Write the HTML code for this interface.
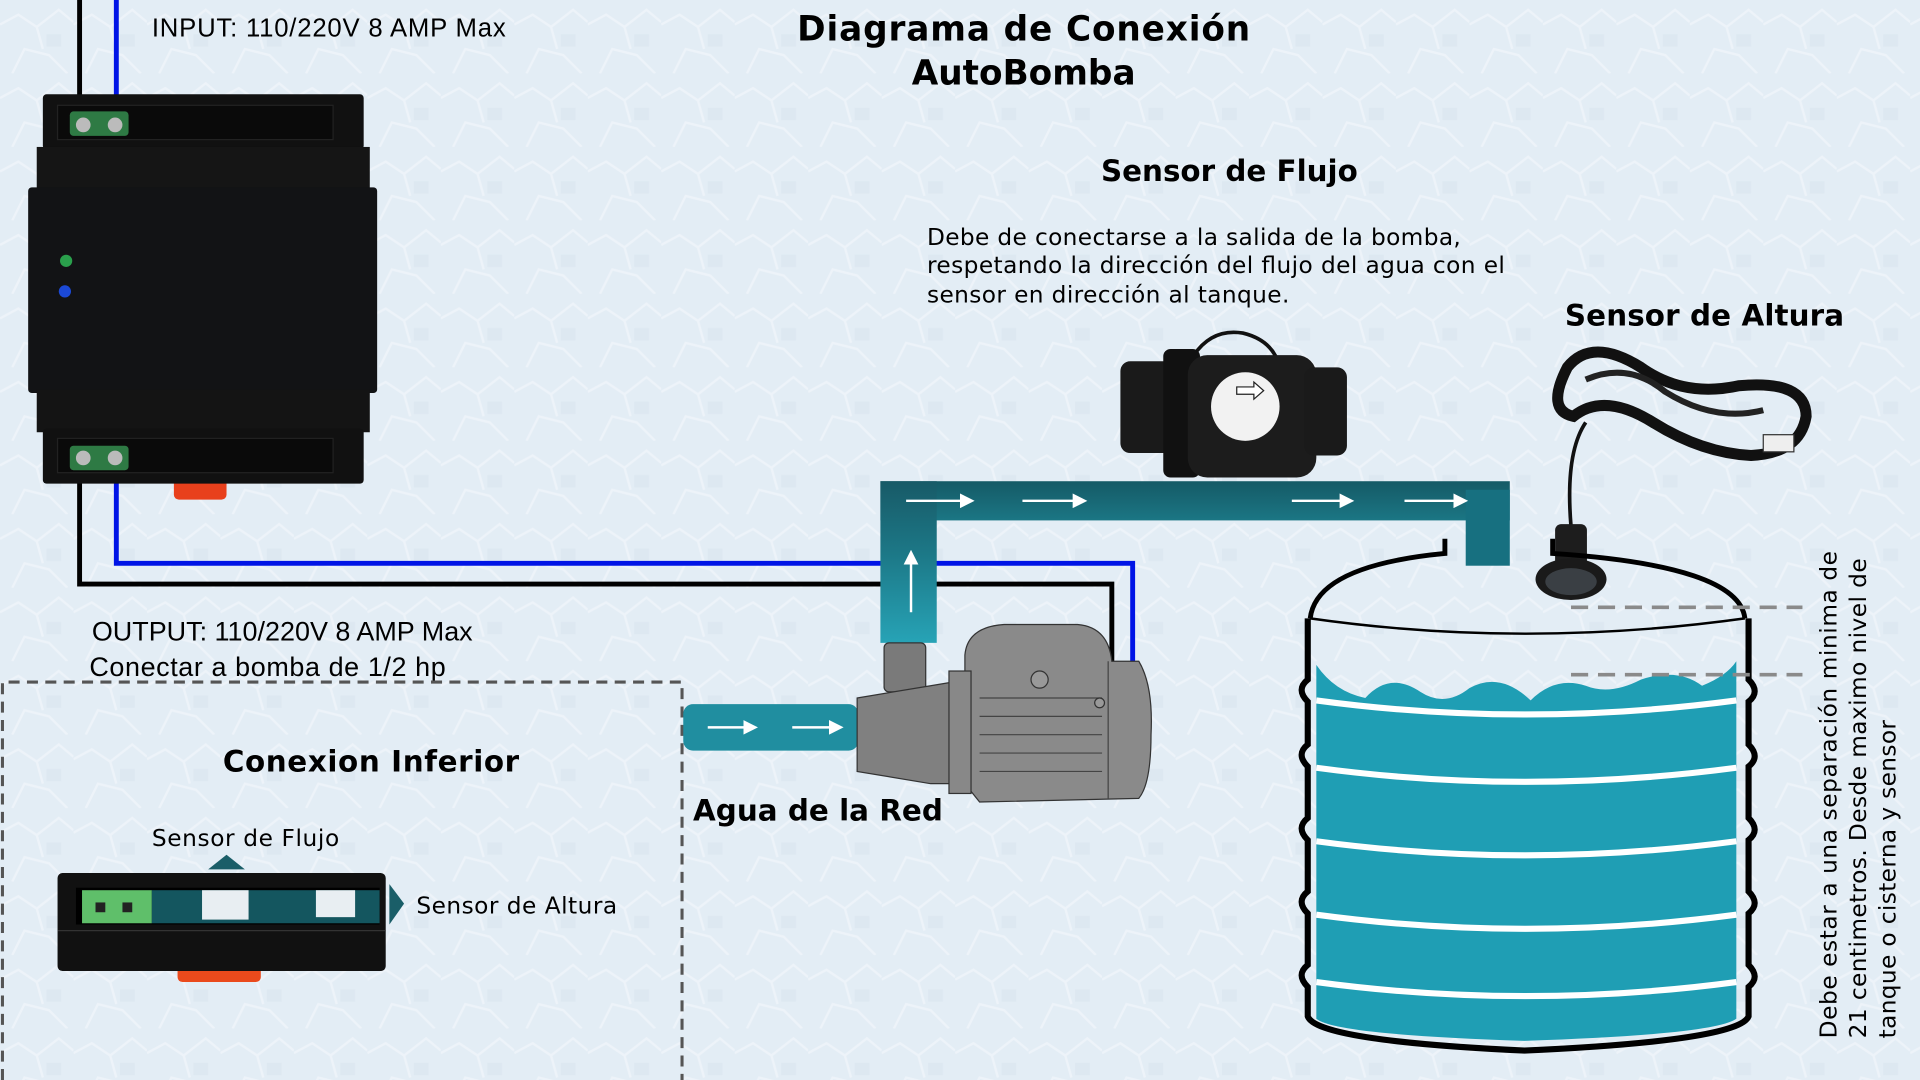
<!DOCTYPE html>
<html><head><meta charset="utf-8"><style>
html,body{margin:0;padding:0;width:1920px;height:1080px;overflow:hidden;background:#e5eef6}
svg{display:block}
text{font-family:"DejaVu Sans","Liberation Sans",sans-serif;fill:#000}
.n{font-family:"Liberation Sans",sans-serif}
</style></head><body>
<svg width="1920" height="1080" viewBox="0 0 1568 882" xmlns="http://www.w3.org/2000/svg">
<defs>
<pattern id="tex" width="60" height="60" patternUnits="userSpaceOnUse">
<rect width="60" height="60" fill="#e3edf5"/>
<path d="M0 20 L15 12 L30 22 L48 8 L60 18 M10 60 L20 40 L40 45 L55 60 M30 22 L35 40" stroke="#edf3f9" stroke-width="2" fill="none"/>
<rect x="38" y="28" width="12" height="10" fill="#dde8f1"/>
</pattern>
<linearGradient id="vp" x1="0" y1="0" x2="0" y2="1"><stop offset="0" stop-color="#185a67"/><stop offset="0.45" stop-color="#1c7887"/><stop offset="1" stop-color="#27a3b6"/></linearGradient>
<linearGradient id="dp" x1="0" y1="0" x2="0" y2="1"><stop offset="0" stop-color="#155a66"/><stop offset="1" stop-color="#1b7684"/></linearGradient>
<marker id="ah" markerWidth="6" markerHeight="6" refX="3" refY="3" orient="auto"><path d="M0 0 L6 3 L0 6 Z" fill="#fff"/></marker>
</defs>
<rect width="1568" height="882" fill="url(#tex)"/>

<!-- wires -->
<path d="M65 0 V80 M65 390 V477 H908 V540" stroke="#000" stroke-width="4" fill="none"/>
<path d="M95 0 V80 M95 390 V460 H925 V540" stroke="#0014e6" stroke-width="4" fill="none"/>

<!-- controller -->
<rect x="142" y="390" width="43" height="18" rx="4" fill="#e8401c"/>
<rect x="35" y="77" width="262" height="45" rx="3" fill="#111"/>
<rect x="47" y="86" width="225" height="28" fill="#0a0a0a" stroke="#222"/>
<rect x="30" y="120" width="272" height="35" fill="#151515"/>
<rect x="23" y="153" width="285" height="168" rx="3" fill="#121315"/>
<rect x="30" y="318" width="272" height="35" fill="#141414"/>
<rect x="35" y="350" width="262" height="45" rx="3" fill="#111"/>
<rect x="47" y="358" width="225" height="28" fill="#0a0a0a" stroke="#222"/>
<rect x="57" y="91" width="48" height="20" rx="3" fill="#2e7a44"/>
<circle cx="68" cy="102" r="6" fill="#bbb"/><circle cx="94" cy="102" r="6" fill="#bbb"/>
<rect x="57" y="364" width="48" height="20" rx="3" fill="#2e7a44"/>
<circle cx="68" cy="374" r="6" fill="#bbb"/><circle cx="94" cy="374" r="6" fill="#bbb"/>
<circle cx="54" cy="213" r="5" fill="#2aa04c"/>
<circle cx="53" cy="238" r="5" fill="#1b49d6"/>

<!-- texts -->
<text class="n" x="124" y="30" font-size="21" textLength="289">INPUT: 110/220V 8 AMP Max</text>
<text x="836" y="33" font-size="28" font-weight="bold" text-anchor="middle" textLength="370">Diagrama de Conexión</text>
<text x="836" y="69" font-size="28" font-weight="bold" text-anchor="middle">AutoBomba</text>
<text x="1004" y="148" font-size="24" font-weight="bold" text-anchor="middle">Sensor de Flujo</text>
<text x="757" y="200" font-size="19" textLength="436">Debe de conectarse a la salida de la bomba,</text>
<text x="757" y="223" font-size="19" textLength="472">respetando la dirección del flujo del agua con el</text>
<text x="757" y="247" font-size="19" textLength="296">sensor en dirección al tanque.</text>
<text x="1392" y="266" font-size="24" font-weight="bold" text-anchor="middle" textLength="228">Sensor de Altura</text>
<text class="n" x="75" y="523" font-size="22" textLength="311">OUTPUT: 110/220V 8 AMP Max</text>
<text class="n" x="73" y="552" font-size="22" textLength="291">Conectar a bomba de 1/2 hp</text>
<text x="303" y="630" font-size="24" font-weight="bold" text-anchor="middle" textLength="242">Conexion Inferior</text>
<text x="124" y="691" font-size="19" textLength="153">Sensor de Flujo</text>
<text x="340" y="746" font-size="19" textLength="164">Sensor de Altura</text>
<text x="566" y="670" font-size="24" font-weight="bold" textLength="204">Agua de la Red</text>

<!-- dashed box -->
<path d="M2 882 V557 H557 V882" stroke="#555" stroke-width="2.5" stroke-dasharray="9 6" fill="none"/>

<!-- bottom connector -->
<path d="M170 710 L185 698 L200 710 Z" fill="#1a5e68"/>
<path d="M318 722 L330 738 L318 755 Z" fill="#1a5e68"/>
<rect x="145" y="780" width="68" height="22" rx="4" fill="#ea4a1c"/>
<rect x="47" y="713" width="268" height="80" rx="4" fill="#111"/>
<rect x="62" y="725" width="248" height="30" fill="#000"/>
<rect x="67" y="727" width="57" height="27" fill="#5fbf6a"/>
<rect x="78" y="737" width="8" height="8" fill="#222"/><rect x="100" y="737" width="8" height="8" fill="#222"/>
<rect x="124" y="727" width="186" height="27" fill="#14565f"/>
<rect x="165" y="727" width="38" height="24" fill="#e8eef2"/>
<rect x="258" y="727" width="32" height="22" fill="#e8eef2"/>
<line x1="47" y1="760" x2="315" y2="760" stroke="#333"/>

<!-- pipes -->
<rect x="719" y="393" width="514" height="32" fill="url(#dp)"/>
<rect x="719" y="393" width="46" height="132" fill="url(#vp)"/>
<rect x="1197" y="400" width="36" height="62" fill="#177080"/>
<g stroke="#fff" stroke-width="2" marker-end="url(#ah)">
<line x1="740" y1="409" x2="790" y2="409"/>
<line x1="835" y1="409" x2="882" y2="409"/>
<line x1="1055" y1="409" x2="1100" y2="409"/>
<line x1="1147" y1="409" x2="1193" y2="409"/>
<line x1="744" y1="500" x2="744" y2="455"/>
</g>
<rect x="558" y="575" width="143" height="38" rx="8" fill="#208ea0"/>
<g stroke="#fff" stroke-width="2" marker-end="url(#ah)">
<line x1="578" y1="594" x2="613" y2="594"/>
<line x1="647" y1="594" x2="683" y2="594"/>
</g>

<!-- pump -->
<g stroke="#333" stroke-width="1">
<rect x="722" y="525" width="34" height="40" rx="4" fill="#7a7a7a"/>
<path d="M700 570 L760 560 L790 555 L790 640 L760 640 L700 630 Z" fill="#808080"/>
<path d="M788 535 Q790 512 820 510 L880 510 Q905 512 908 540 L930 540 Q942 560 940 600 Q940 640 930 652 L800 655 L788 640 Z" fill="#8a8a8a"/>
<rect x="775" y="548" width="18" height="100" fill="#888"/>
<path d="M800 570 H900 M800 585 H900 M800 600 H900 M800 615 H900 M800 630 H900 M905 540 V652" fill="none" stroke="#444"/>
<circle cx="849" cy="555" r="7" fill="#999"/>
<circle cx="898" cy="574" r="4" fill="#999"/>
</g>

<!-- flow sensor -->
<path d="M975 290 Q990 268 1015 272 Q1040 278 1045 300" stroke="#111" stroke-width="3" fill="none"/>
<rect x="915" y="295" width="45" height="75" rx="8" fill="#1a1a1a"/>
<rect x="950" y="285" width="30" height="105" rx="6" fill="#111"/>
<rect x="970" y="290" width="105" height="100" rx="16" fill="#1c1c1c"/>
<rect x="1065" y="300" width="35" height="72" rx="8" fill="#1a1a1a"/>
<circle cx="1017" cy="332" r="28" fill="#f2f2f2"/>
<path d="M1010 316 H1024 V312 L1032 319 L1024 326 V322 H1010 Z" fill="#fff" stroke="#222" stroke-width="1"/>

<!-- height sensor -->
<path d="M1283 430 Q1278 370 1295 345" stroke="#111" stroke-width="3" fill="none"/>
<path d="M1280 300 Q1300 275 1340 300 Q1375 325 1420 315 Q1475 310 1475 340 Q1470 370 1430 372 Q1390 370 1350 345 Q1310 320 1285 340 Q1262 335 1280 300 Z" fill="none" stroke="#111" stroke-width="9"/>
<path d="M1295 310 Q1330 295 1360 320 Q1400 345 1440 335" fill="none" stroke="#222" stroke-width="5"/>
<rect x="1440" y="355" width="25" height="14" fill="#eee" stroke="#333"/>
<rect x="1270" y="428" width="26" height="35" rx="5" fill="#1d1d1d"/>
<ellipse cx="1283" cy="473" rx="29" ry="17" fill="#1a1a1a"/>
<ellipse cx="1283" cy="475" rx="21" ry="11" fill="#3a3f44"/>

<!-- tank -->
<path d="M1070 505 Q1075 462 1180 452 V440 M1268 440 V452 Q1420 462 1425 505" stroke="#000" stroke-width="4" fill="none"/>
<path d="M1070 505 Q1245 530 1425 505" stroke="#000" stroke-width="2" fill="none"/>
<path d="M1068 505 V555 q-10 8 0 18 V608 q-10 8 0 18 V668 q-10 8 0 18 V728 q-10 8 0 18 V788 q-10 8 0 18 V830 Q1075 850 1245 858 Q1420 850 1428 830 V806 q10 -8 0 -18 V746 q10 -8 0 -18 V686 q10 -8 0 -18 V626 q10 -8 0 -18 V573 q10 -8 0 -18 V505" stroke="#000" stroke-width="5" fill="none"/>
<path d="M1075 543 Q1090 565 1115 570 Q1135 548 1160 565 Q1180 578 1200 562 Q1225 548 1250 572 Q1270 552 1295 560 Q1315 568 1340 555 Q1370 545 1390 560 Q1410 552 1418 540 V832 Q1400 845 1245 850 Q1090 845 1075 832 Z" fill="#1f9eb4"/>
<g stroke="#fff" stroke-width="5" fill="none">
<path d="M1075 572 Q1245 595 1418 572"/>
<path d="M1075 627 Q1245 650 1418 627"/>
<path d="M1075 687 Q1245 710 1418 687"/>
<path d="M1075 747 Q1245 770 1418 747"/>
<path d="M1075 802 Q1245 825 1418 802"/>
</g>
<g stroke="#8a8a8a" stroke-width="3" stroke-dasharray="14 8">
<line x1="1283" y1="496" x2="1472" y2="496"/>
<line x1="1283" y1="551" x2="1472" y2="551"/>
</g>
<g transform="translate(1500 848) rotate(-90)"><text x="0" y="0" font-size="19" textLength="398">Debe estar a una separación  minima de</text></g>
<g transform="translate(1524 848) rotate(-90)"><text x="0" y="0" font-size="19" textLength="392">21 centimetros. Desde maximo nivel de</text></g>
<g transform="translate(1548 848) rotate(-90)"><text x="0" y="0" font-size="19" textLength="260">tanque o cisterna y sensor</text></g>
</svg>
</body></html>
